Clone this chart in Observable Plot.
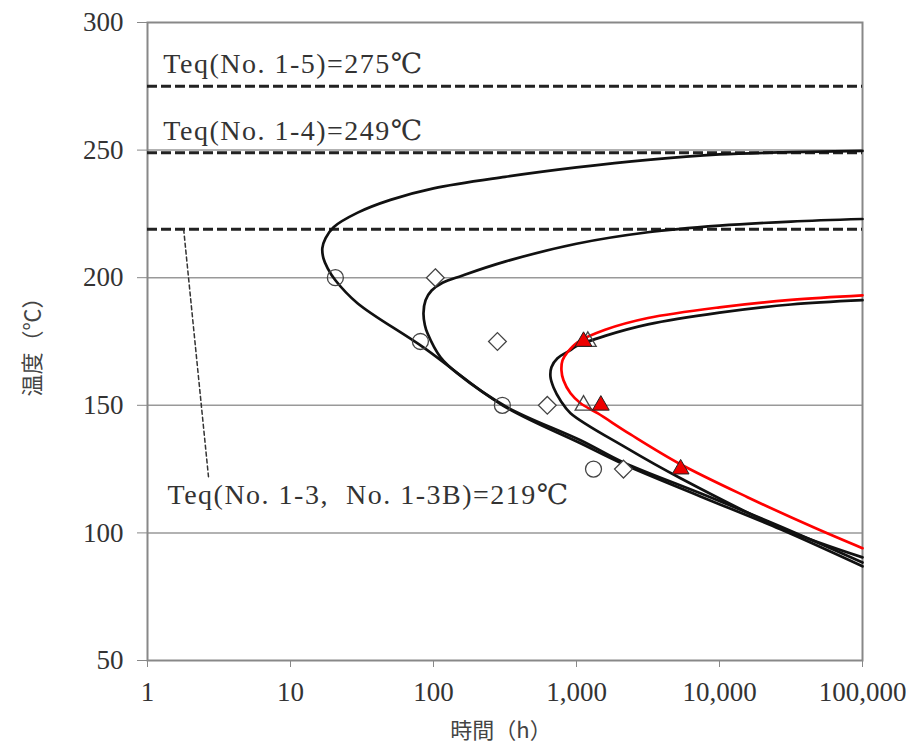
<!DOCTYPE html>
<html><head><meta charset="utf-8">
<script src="https://cdn.jsdelivr.net/npm/d3@7"></script>
<script src="https://cdn.jsdelivr.net/npm/@observablehq/plot@0.6"></script>
<style>
body{margin:0;background:#fff;}
</style>
</head><body><div id="chart"></div>
<script>
// ---- axis ticks ----
const xTicks = [1, 10, 100, 1000, 10000, 100000];
const xTickLabels = ["1", "10", "100", "1,000", "10,000", "100,000"];
const yTicks = [50, 100, 150, 200, 250, 300];

// ---- equilibrium temperatures ----
const teqValues = [275, 249, 219];
const teqLabels = ["Teq(No. 1-5)=275℃", "Teq(No. 1-4)=249℃", "Teq(No. 1-3,  No. 1-3B)=219℃"];

// ---- curves: [time (h), temperature (°C)] traced along each C-curve ----
const curveCircle = [
  [100000, 249.7], [31600, 249.2], [10000, 248.3], [3160, 246.2], [1000, 243.2], [316, 239.5],
  [100, 235.0], [50, 230.5], [29.5, 225.5], [20.0, 219.8], [17.6, 215.5], [16.7, 211.6],
  [17.0, 207.6], [18.2, 203.7], [20.6, 199.0], [29.4, 190.0], [85, 172.7], [304, 150.0],
  [1067, 135.1], [2133, 126.9], [7360, 114.3], [26700, 101.4], [100000, 86.9]
];
const curveDiamond = [
  [100000, 223.0], [31600, 222.0], [10000, 220.4], [3160, 217.8], [1000, 213.3], [316, 206.3],
  [158, 200.8], [115.6, 198.0], [97, 195.0], [88, 191.2], [85.1, 186.1], [87, 181.5],
  [90.8, 178.2], [112, 168.8], [147, 162.5], [329, 149.2], [1067, 136.3], [2133, 127.6],
  [7360, 115.5], [26700, 102.5], [100000, 88.4]
];
const curveTriangle = [
  [100000, 191.2], [31600, 189.5], [10000, 186.3], [3160, 181.7], [1585, 177.2], [1000, 173.2],
  [908, 171.6], [736, 168.4], [668, 164.9], [658, 161.0], [691, 157.0], [773, 151.9],
  [908, 146.9], [2203, 133.5], [5340, 121.4], [26700, 102.0], [100000, 90.4]
];
const curveRed = [
  [100000, 193.1], [31600, 191.3], [10000, 188.4], [3160, 184.2], [1585, 179.6], [1016, 174.7],
  [865, 170.8], [798, 167.6], [785, 163.7], [811, 159.8], [908, 154.7], [1067, 150.8],
  [1403, 146.9], [2387, 138.6], [5340, 126.9], [15700, 114.0], [45400, 102.2], [100000, 94.0]
];

// ---- measured points ----
const pointsCircle = [[20.6, 200], [81, 175], [303, 150], [1315, 125]];
const pointsDiamond = [[103, 200], [280, 175], [625, 150], [2130, 125]];
const pointsTriangleOpen = [[1200, 175], [1120, 150]];
const pointsTriangleRed = [[1120, 175], [1480, 150], [5350, 125]];

// ---- annotation leader line and label anchors ----
const leader = [[1.79, 219], [2.67, 122]];
const labelAnchors = [[1.29, 275], [1.29, 249], [1.38, 115]];

const serif = "'Liberation Serif', 'DejaVu Serif', 'Noto Sans CJK JP', serif";
const cjk = "'Noto Sans CJK JP', sans-serif";

const curveStyle = {x: d => d[0], y: d => d[1], curve: "catmull-rom", strokeWidth: 2.7};

const chart = Plot.plot({
  width: 906,
  height: 744,
  marginLeft: 147,
  marginRight: 44,
  marginTop: 22,
  marginBottom: 84,
  style: {fontFamily: serif, background: "#fff"},
  x: {type: "log", domain: [1, 100000]},
  y: {domain: [50, 300]},
  marks: [
    Plot.gridY(yTicks.slice(1, -1), {stroke: "#999", strokeOpacity: 1, strokeWidth: 1.5}),
    Plot.frame({stroke: "#888", strokeWidth: 2}),
    Plot.axisX({ticks: xTicks, tickFormat: d => xTickLabels[xTicks.indexOf(d)], tickSize: 7, tickPadding: 14,
      label: null, stroke: "#888", fill: "#333", fontSize: 27}),
    Plot.axisY({ticks: yTicks, tickSize: 10, tickPadding: 14, label: null, stroke: "#888", fill: "#333", fontSize: 27}),
    Plot.ruleY(teqValues, {stroke: "#222", strokeWidth: 3, strokeDasharray: "10,4"}),
    Plot.line(leader, {x: d => d[0], y: d => d[1], stroke: "#333", strokeWidth: 1.5, strokeDasharray: "4,3"}),
    Plot.line(curveCircle, {...curveStyle, stroke: "#111"}),
    Plot.line(curveDiamond, {...curveStyle, stroke: "#111"}),
    Plot.line(curveTriangle, {...curveStyle, stroke: "#111"}),
    Plot.line(curveRed, {...curveStyle, stroke: "#ff0000"}),
    Plot.dot(pointsCircle, {x: d => d[0], y: d => d[1], symbol: "circle", r: 8, stroke: "#444", strokeWidth: 1.3, fill: "none"}),
    Plot.dot(pointsDiamond, {x: d => d[0], y: d => d[1], symbol: "diamond2", r: 8, stroke: "#444", strokeWidth: 1.3, fill: "white"}),
    Plot.dot(pointsTriangleOpen, {x: d => d[0], y: d => d[1], symbol: "triangle2", r: 8, stroke: "#444", strokeWidth: 1.3, fill: "none"}),
    Plot.dot(pointsTriangleRed, {x: d => d[0], y: d => d[1], symbol: "triangle2", r: 8, stroke: "#222", strokeWidth: 1, fill: "#ee0000"}),
    Plot.text(teqLabels.slice(0, 2), {x: (d, i) => labelAnchors[i][0], y: (d, i) => labelAnchors[i][1], text: d => d,
      dy: -22, textAnchor: "start", lineAnchor: "middle", fontSize: 28, fill: "#333"}),
    Plot.text([teqLabels[2]], {x: labelAnchors[2][0], y: labelAnchors[2][1], text: d => d,
      textAnchor: "start", lineAnchor: "middle", fontSize: 28, fill: "#333"}),
    Plot.text(["温度（℃）"], {frameAnchor: "left", dx: -115, rotate: -90, textAnchor: "middle", lineAnchor: "middle",
      fontSize: 22, fontFamily: cjk, fill: "#444"}),
    Plot.text(["時間（h）"], {frameAnchor: "bottom", dx: -4, dy: 70, textAnchor: "middle", lineAnchor: "middle",
      fontSize: 22, fontFamily: cjk, fill: "#444"})
  ]
});
d3.select(chart).selectAll("text")
  .filter(function() { return this.textContent.startsWith("Teq"); })
  .style("letter-spacing", "1.5px");
document.getElementById("chart").appendChild(chart);
</script>
</body></html>
